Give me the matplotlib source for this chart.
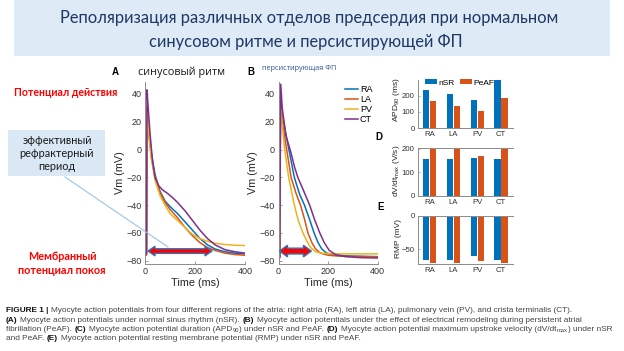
import matplotlib
matplotlib.use("Agg")
import matplotlib.pyplot as plt
from matplotlib.patches import Rectangle, Polygon
from matplotlib.lines import Line2D
from matplotlib.transforms import IdentityTransform

plt.rcParams['font.family'] = ['Liberation Sans', 'DejaVu Sans']
plt.rcParams['mathtext.fontset'] = 'custom'
plt.rcParams['mathtext.rm'] = 'Liberation Sans'
plt.rcParams['mathtext.bf'] = 'Liberation Sans:bold'
plt.rcParams['mathtext.it'] = 'Liberation Sans:italic'

# ---------------- data ----------------
regions = ['RA', 'LA', 'PV', 'CT']
region_colors = ['#0072BD', '#D95319', '#EDB120', '#7E2F8E']

# Panel A: normal sinus rhythm (time ms, Vm mV)
a_ra_t = [0, 6, 8, 15, 25, 40, 60, 80, 100, 130, 160, 190, 220, 250, 280, 320, 360, 400]
a_ra_v = [-75, -75, 30, 15, -2, -18, -30, -37, -41, -46, -52, -58, -64, -68.5, -71.5, -73.5, -74.5, -75]
a_la_t = [0, 6, 8, 15, 25, 40, 60, 80, 100, 130, 160, 190, 220, 250, 280, 320, 360, 400]
a_la_v = [-76, -76, 28, 12, -5, -20, -31, -38, -43, -49, -56, -62, -67, -70.5, -72.5, -74.5, -75.5, -76]
a_pv_t = [0, 6, 8, 15, 25, 40, 60, 80, 100, 130, 160, 190, 220, 250, 280, 320, 360, 400]
a_pv_v = [-69, -69, 30, 12, -6, -22, -33, -40, -46, -51, -56, -61, -64, -66, -67.3, -68.3, -68.8, -69]
a_ct_t = [0, 6, 8, 12, 20, 30, 40, 55, 70, 90, 110, 130, 160, 190, 220, 250, 280, 320, 360, 400]
a_ct_v = [-75, -75, 43, 32, 12, -8, -20, -26, -29, -31.5, -34.5, -38, -44, -51, -58, -64, -68.5, -72, -73.5, -74.5]

# Panel B: persistent AF
b_ra_t = [0, 5, 8, 15, 42, 64, 85, 105, 125, 144, 160, 175, 195, 230, 300, 400]
b_ra_v = [-77, -77, 36, 25, 0, -20, -32, -40, -50, -60, -67, -71.5, -74.5, -76, -76.6, -77]
b_la_t = [0, 5, 8, 15, 33, 51, 70, 89, 105, 119, 135, 150, 170, 200, 250, 400]
b_la_v = [-77.5, -77.5, 34, 20, 0, -20, -31, -40, -50, -60, -67, -71.5, -74.5, -76, -76.7, -77.2]
b_pv_t = [0, 5, 8, 15, 25, 41, 64, 80, 99, 115, 130, 150, 180, 220, 300, 400]
b_pv_v = [-75, -75, 35, 18, 0, -20, -40, -51, -60, -66, -70.5, -73.5, -74.6, -75, -75, -75]
b_ct_t = [0, 5, 9, 15, 30, 50, 64, 78, 100, 126, 145, 167, 185, 205, 230, 270, 330, 400]
b_ct_v = [-78, -78, 47, 30, 10, -2, -12, -20, -29, -40, -50, -60, -67, -72.5, -75.5, -77, -77.7, -78]

# Panels C-E: bar values (nSR, PeAF)
apd_nsr = [235, 210, 173, 296]
apd_peaf = [167, 139, 106, 184]
dvdt_nsr = [156, 156, 160, 156]
dvdt_peaf = [201, 201, 170, 201]
rmp_nsr = [-67, -67, -61, -67]
rmp_peaf = [-71.5, -71.5, -68.5, -71.5]

# effective refractory period arrows (start ms, end ms, Vm)
erp_arrow_a = [12, 268, -73]
erp_arrow_b = [4, 133, -73]

title_lines = ["Реполяризация различных отделов предсердия при нормальном",
               "синусовом ритме и персистирующей ФП"]
# caption runs: (text, style) with style n=normal, b=bold, s=subscript
caption_lines = [
    [('FIGURE 1 | ', 'b'),
     ('Myocyte action potentials from four different regions of the atria: right atria (RA), left atria (LA), pulmonary vein (PV), and crista terminalis (CT).', 'n')],
    [('(A)', 'b'), (' Myocyte action potentials under normal sinus rhythm (nSR). ', 'n'), ('(B)', 'b'),
     (' Myocyte action potentials under the effect of electrical remodeling during persistent atrial', 'n')],
    [('fibrillation (PeAF). ', 'n'), ('(C)', 'b'), (' Myocyte action potential duration (APD', 'n'), ('90', 's'),
     (') under nSR and PeAF. ', 'n'), ('(D)', 'b'),
     (' Myocyte action potential maximum upstroke velocity (dV/dt', 'n'), ('max', 's'), (') under nSR', 'n')],
    [('and PeAF. ', 'n'), ('(E)', 'b'),
     (' Myocyte action potential resting membrane potential (RMP) under nSR and PeAF.', 'n')],
]

# ---------------- figure ----------------
W, H = 624, 351
fig = plt.figure(figsize=(W / 100, H / 100), dpi=100)
fig.patch.set_facecolor('white')
R = fig.canvas.get_renderer()


def fx(x):
    return x / W


def fy(y):
    return 1 - y / H


def add_ax(x0, y0, x1, y1):
    return fig.add_axes([x0 / W, 1 - y1 / H, (x1 - x0) / W, (y1 - y0) / H])


def text_w(t):
    return t.get_window_extent(R).width


def fit_text(t, target_w):
    t.set_fontsize(t.get_fontsize() * target_w / text_w(t))


SPINE = '#8c8c8c'
TICK = '#333333'

# title band
fig.patches.append(Rectangle((fx(14), fy(56)), (610 - 14) / W, 56 / H, transform=fig.transFigure,
                             facecolor='#DEEBF7', edgecolor='none', zorder=0))
t1 = fig.text(fx(309), fy(18), title_lines[0], ha='center', va='center', family=['Lato', 'DejaVu Sans'],
              fontsize=12, color='#1F3864')
fit_text(t1, 500)
fig.text(fx(306), fy(42), title_lines[1], ha='center', va='center', family=['Lato', 'DejaVu Sans'],
         fontsize=t1.get_fontsize(), color='#1F3864')


# --- AP panels
def style_ap(ax):
    ax.set_xlim(0, 400)
    ax.set_ylim(-82.3, 48.6)
    ax.set_xticks([0, 200, 400])
    ax.set_yticks([-80, -60, -40, -20, 0, 20, 40])
    for s in ['top', 'right']:
        ax.spines[s].set_visible(False)
    for s in ['left', 'bottom']:
        ax.spines[s].set_color(SPINE)
        ax.spines[s].set_linewidth(0.7)
    ax.tick_params(direction='in', length=2.5, width=0.6, color=SPINE, labelsize=6.5,
                   labelcolor=TICK, pad=2.5)
    ax.set_facecolor('none')


def block_darrow(ax, x0, x1, y, body_h, head_h, head_l, fc='#FF0000', ec='#2E75B6'):
    X0, Y = ax.transData.transform((x0, y))
    X1, _ = ax.transData.transform((x1, y))
    verts = [(X0, Y), (X0 + head_l, Y + head_h), (X0 + head_l, Y + body_h), (X1 - head_l, Y + body_h),
             (X1 - head_l, Y + head_h), (X1, Y), (X1 - head_l, Y - head_h), (X1 - head_l, Y - body_h),
             (X0 + head_l, Y - body_h), (X0 + head_l, Y - head_h)]
    p = Polygon(verts, closed=True, transform=IdentityTransform(), facecolor=fc, edgecolor=ec,
                linewidth=1.0, zorder=5)
    fig.patches.append(p)


axA = add_ax(145, 82, 245, 264)
for t, v, c in zip([a_ra_t, a_la_t, a_pv_t, a_ct_t], [a_ra_v, a_la_v, a_pv_v, a_ct_v], region_colors):
    axA.plot(t, v, color=c, lw=1.1)
style_ap(axA)
axA.set_xlabel('Time (ms)', fontsize=7.8, color='#262626', labelpad=1)
axA.set_ylabel('Vm (mV)', fontsize=7.8, color='#262626', labelpad=1)

axB = add_ax(278.5, 82, 377.5, 264)
lines = []
for t, v, c, name in zip([b_ra_t, b_la_t, b_pv_t, b_ct_t], [b_ra_v, b_la_v, b_pv_v, b_ct_v], region_colors, regions):
    ln, = axB.plot(t, v, color=c, lw=1.1, label=name)
    lines.append(ln)
style_ap(axB)
axB.set_xlabel('Time (ms)', fontsize=7.8, color='#262626', labelpad=1)
axB.set_ylabel('Vm (mV)', fontsize=7.8, color='#262626', labelpad=1)
fig.legend(handles=lines, loc='upper left', bbox_to_anchor=(fx(345), fy(85)), frameon=False,
           fontsize=6.5, handlelength=1.4, handletextpad=0.25, labelspacing=0.12, borderpad=0,
           borderaxespad=0)

fig.canvas.draw()
block_darrow(axA, *erp_arrow_a, body_h=2.3, head_h=4.8, head_l=7)
block_darrow(axB, *erp_arrow_b, body_h=2.9, head_h=5.8, head_l=8)

# --- bar panels
x_pos = list(range(1, len(regions) + 1))
BW = 0.26
OFF = 0.145
BLUE = '#0072BD'
ORANGE = '#D95319'


def style_bar(ax, top=False):
    ax.set_xlim(0.5, 4.5)
    ax.set_xticks(x_pos)
    ax.set_xticklabels(regions)
    ax.spines['right'].set_visible(False)
    ax.spines['top'].set_visible(top)
    for s in ['left', 'bottom', 'top']:
        ax.spines[s].set_color(SPINE)
        ax.spines[s].set_linewidth(0.7)
    ax.tick_params(direction='in', length=1.5, width=0.5, color=SPINE, labelsize=5.6,
                   labelcolor=TICK, pad=2)
    ax.tick_params(axis='x', length=0)


axC = add_ax(417.5, 80, 513, 128.3)
bC1 = axC.bar([p - OFF for p in x_pos], apd_nsr, BW, color=BLUE, label='nSR')
bC2 = axC.bar([p + OFF for p in x_pos], apd_peaf, BW, color=ORANGE, label='PeAF')
axC.set_ylim(0, 296)
axC.set_yticks([0, 100, 200])
style_bar(axC)
axC.legend(handles=[bC1, bC2], ncol=2, loc='upper left', bbox_to_anchor=(fx(425), fy(79)),
           bbox_transform=fig.transFigure, frameon=False, fontsize=6, handlelength=1.4,
           handleheight=0.6, handletextpad=0.15, columnspacing=0.7, borderpad=0, borderaxespad=0)

axD = add_ax(417.5, 148.5, 513, 196)
axD.bar([p - OFF for p in x_pos], dvdt_nsr, BW, color=BLUE)
axD.bar([p + OFF for p in x_pos], dvdt_peaf, BW, color=ORANGE)
axD.set_ylim(0, 202)
axD.set_yticks([0, 100, 200])
style_bar(axD, top=True)

axE = add_ax(417.5, 216, 513, 264)
axE.bar([p - OFF for p in x_pos], rmp_nsr, BW, color=BLUE)
axE.bar([p + OFF for p in x_pos], rmp_peaf, BW, color=ORANGE)
axE.set_ylim(-72.5, 0)
axE.set_yticks([-50, 0])
style_bar(axE, top=True)

fig.text(fx(397), fy(100), r'APD$_{90}$ (ms)', rotation=90, ha='center', va='center', fontsize=6, color='#262626')
fig.text(fx(397), fy(171), r'dV/dt$_{\mathrm{max}}$ (V/s)', rotation=90, ha='center', va='center', fontsize=6, color='#262626')
fig.text(fx(398), fy(238), 'RMP (mV)', rotation=90, ha='center', va='center', fontsize=6, color='#262626')

# panel letters and headings
fig.text(fx(115), fy(72), 'A', ha='center', va='center', fontsize=7, fontweight='bold')
fig.text(fx(251), fy(72), 'B', ha='center', va='center', fontsize=7, fontweight='bold')
fig.text(fx(379), fy(137), 'D', ha='center', va='center', fontsize=7, fontweight='bold')
fig.text(fx(381), fy(207), 'E', ha='center', va='center', fontsize=7, fontweight='bold')
fig.text(fx(182), fy(72), 'синусовый ритм', ha='center', va='center', fontsize=7.8,
         family=['Open Sans', 'DejaVu Sans'], color='#1a1a1a')
fig.text(fx(299), fy(68), 'персистирующая ФП', ha='center', va='center', fontsize=5.2,
         family=['Open Sans', 'DejaVu Sans'], color='#2F5597')

# left annotations
fig.text(fx(66), fy(93), 'Потенциал действия', ha='center', va='center', fontsize=7.6,
         family=['Lato', 'DejaVu Sans'], fontweight='bold', color='#FF0000')
fig.patches.append(Rectangle((fx(8), fy(176)), 97 / W, 46 / H, transform=fig.transFigure,
                             facecolor='#DAE8F5', edgecolor='none', zorder=0))
for yy, s in zip([140, 153.5, 167], ['эффективный', 'рефрактерный', 'период']):
    fig.text(fx(57), fy(yy), s, ha='center', va='center', fontsize=7.8,
             family=['Lato', 'DejaVu Sans'], color='#1a1a1a')
fig.add_artist(Line2D([fx(65), fx(168)], [fy(177), fy(247)], transform=fig.transFigure,
                      color='#9DC3E6', lw=0.8))
fig.text(fx(62), fy(257), 'Мембранный', ha='center', va='center', fontsize=7.8,
         family=['Lato', 'DejaVu Sans'], fontweight='bold', color='#FF0000')
fig.text(fx(62), fy(271), 'потенциал покоя', ha='center', va='center', fontsize=7.8,
         family=['Lato', 'DejaVu Sans'], fontweight='bold', color='#FF0000')


# caption: laid out run by run (edge spaces replaced by a measured gap)
def ink_width(s, size, weight):
    t = fig.text(0, 0, s, fontsize=size, fontweight=weight)
    w = t.get_window_extent(R).width
    t.remove()
    return w


def space_width(size):
    return ink_width('a a', size, 'normal') - ink_width('aa', size, 'normal')


SUB = 0.72


def run_style(st, size):
    if st == 'b':
        return size, 'bold'
    if st == 's':
        return size * SUB, 'normal'
    return size, 'normal'


def layout_line(runs, size):
    sp = space_width(size)
    x = 0.0
    items = []
    for s, st in runs:
        sz, wt = run_style(st, size)
        if s.startswith(' '):
            x += sp
        core = s.strip(' ')
        items.append((x, core, st, sz, wt))
        x += ink_width(core, sz, wt) + 0.4
        if s.endswith(' '):
            x += sp
    return items, x


BASE = 5.5
widths = [layout_line(runs, BASE)[1] for runs in caption_lines]
cap_size = BASE * 607 / max(widths)

for i, runs in enumerate(caption_lines):
    items, _ = layout_line(runs, cap_size)
    ybase = 312.5 + 9.2 * i
    for x, core, st, sz, wt in items:
        col = '#111111' if st == 'b' else '#454545'
        yy = ybase + (1.6 if st == 's' else 0)
        fig.text(fx(6 + x), fy(yy), core, ha='left', va='baseline', fontsize=sz, fontweight=wt, color=col)

fig.savefig('out.png', dpi=100)
